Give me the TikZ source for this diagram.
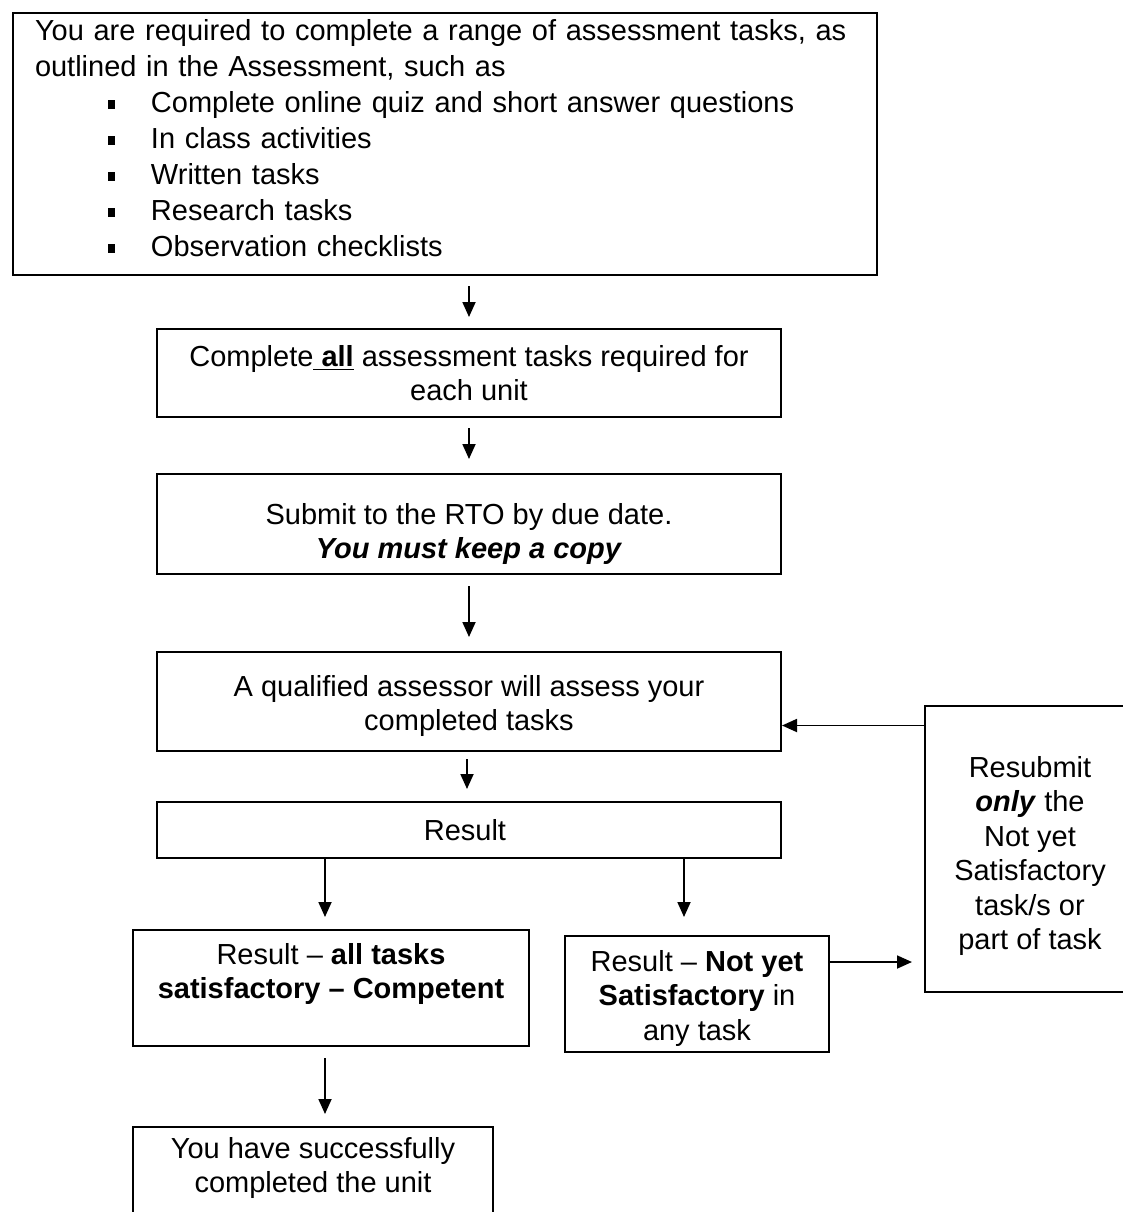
\documentclass[tikz,border=0pt]{standalone}
\usepackage{fontspec}
\setmainfont{Liberation Sans}
\usepackage{tikz}
\usetikzlibrary{positioning,arrows.meta}
\tikzstyle{arrow} = [line width=0.9pt, ->, >={Triangle[length=7.5pt,width=6.5pt]}]
\newcommand{\boxfont}{\fontsize{14.5}{17.25}\selectfont}
\newcommand{\listfont}{\fontsize{14.5}{18}\selectfont}
\newcommand{\bitem}[1]{\hspace*{36.5pt}\makebox[21.5pt][l]{\raisebox{1.8pt}{\rule{3.5pt}{4.5pt}}}#1}

\begin{document}
\begin{tikzpicture}[
    x=0.5pt, y=-0.5pt,
    box/.style={
        rectangle,
        draw=black,
        line width=1pt,
        align=center,
        font=\boxfont,
        inner sep=2pt
    },
    listbox/.style={
        box,
        align=left,
        font=\listfont,
        inner xsep=11pt,
        inner ysep=1pt,
        text width=410pt
    }
    ]
    \useasboundingbox (0,0) rectangle (1123,1212);

    % list of tasks
    \node[listbox, anchor=north west, minimum width=432pt, minimum height=131pt] (tasks) at (12,12) {
        You are required to complete a range of assessment tasks, as\\
        outlined in the Assessment, such as\\
        \bitem{Complete online quiz and short answer questions}\\
        \bitem{In class activities}\\
        \bitem{Written tasks}\\
        \bitem{Research tasks}\\
        \bitem{Observation checklists}\\[-12pt]
        \mbox{}
    };

    % main column
    \node[box, anchor=north west, minimum width=312pt, minimum height=44pt] (complete) at (156,328) {
        Complete\underline{ \textbf{all}} assessment tasks required for\\
        each unit
    };
    \node[box, below=27.5pt of complete, minimum width=312pt, minimum height=50pt] (submit) {
        \rule{0pt}{20.5pt}Submit to the RTO by due date.\\
        \textbf{\textit{You must keep a copy}}
    };
    \node[box, below=38pt of submit, minimum width=312pt, minimum height=49.5pt] (assess) {
        \rule{0pt}{15pt}A qualified assessor will assess your\\
        completed tasks
    };
    \node[box, below=24.5pt of assess, minimum width=312pt, minimum height=28pt] (result) {
        Result
    };

    % outcomes
    \node[box, anchor=north west, minimum width=198pt, minimum height=58pt] (pass) at (132,929) {
        Result -- \textbf{all tasks}\\
        \textbf{satisfactory -- Competent}\\
        \mbox{}
    };
    \node[box, anchor=north west, minimum width=132pt, minimum height=58pt] (notyet) at (564,935) {
        \rule{0pt}{14.5pt}Result -- \textbf{Not yet}\\
        \textbf{Satisfactory} in\\
        any task
    };
    \node[box, anchor=north west, minimum width=105pt, minimum height=143pt] (resubmit) at (924,705) {
        \rule{0pt}{17.5pt}Resubmit\\
        \textbf{\textit{only}} the\\
        Not yet\\
        Satisfactory\\
        task/s or\\
        part of task
    };
    \node[box, below=39.5pt of pass.south west, anchor=north west, minimum width=180pt, minimum height=55pt] (done) {
        You have successfully\\
        completed the unit\\
        \mbox{}
    };

    \draw[arrow, shorten <=5pt, shorten >=5.5pt] (tasks.south -| complete.north) -- (complete.north);
    \draw[arrow, shorten <=5pt, shorten >=7pt] (complete) -- (submit);
    \draw[arrow, shorten <=5.5pt, shorten >=7pt] (submit) -- (assess);
    \draw[arrow, shorten <=3.5pt, shorten >=6pt] ([xshift=-1pt]assess.south) -- ([xshift=-1pt]result.north);
    \draw[arrow, shorten >=6pt] ([xshift=-3pt]result.south -| pass.north) -- ([xshift=-3pt]pass.north);
    \draw[arrow, shorten >=9pt] ([xshift=-6.5pt]result.south -| notyet.north) -- ([xshift=-6.5pt]notyet.north);
    \draw[arrow, shorten >=6pt] ([yshift=16pt]notyet.east) -- ([yshift=16pt]notyet.east -| resubmit.west);
    \draw[arrow] ([yshift=-12pt]assess.east -| resubmit.west) -- ([yshift=-12pt]assess.east);
    \draw[arrow, shorten <=5.5pt, shorten >=6pt] ([xshift=-3pt]pass.south) -- ([xshift=-3pt]pass.south |- done.north);
\end{tikzpicture}
\end{document}
